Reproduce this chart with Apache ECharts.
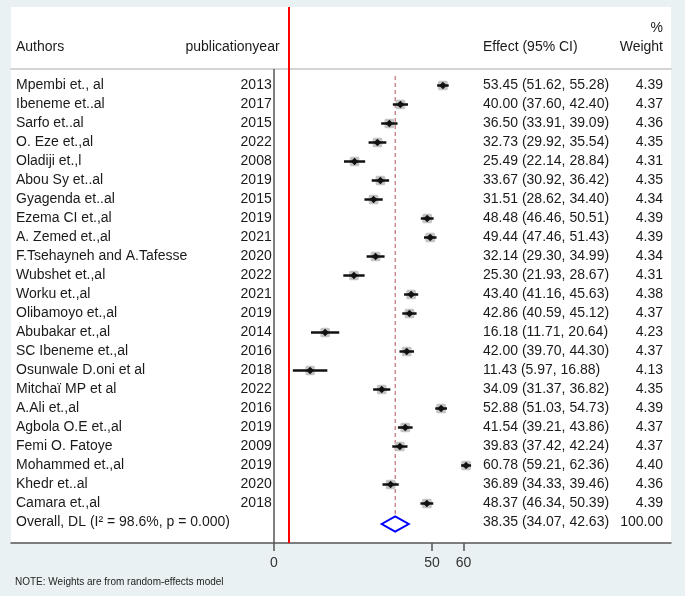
<!DOCTYPE html>
<html><head><meta charset="utf-8">
<script src="https://cdn.jsdelivr.net/npm/echarts@6/dist/echarts.min.js"></script>
<style>html,body{margin:0;padding:0;background:#e9f1f3}#c{width:685px;height:596px}</style>
</head><body><div id="c"></div>
<script>
// ---------------- data ----------------
const authors = ["Mpembi et., al","Ibeneme et..al","Sarfo et..al","O. Eze et.,al","Oladiji et.,l","Abou Sy et..al","Gyagenda et..al","Ezema CI et.,al","A. Zemed et.,al","F.Tsehayneh and A.Tafesse","Wubshet et.,al","Worku et.,al","Olibamoyo et.,al","Abubakar et.,al","SC Ibeneme et.,al","Osunwale D.oni et al","Mitchaï MP et al","A.Ali et.,al","Agbola O.E et.,al","Femi O. Fatoye","Mohammed et.,al","Khedr et..al","Camara et.,al"];
const years = [2013,2017,2015,2022,2008,2019,2015,2019,2021,2020,2022,2021,2019,2014,2016,2018,2022,2016,2019,2009,2019,2020,2018];
const effects = [53.45,40.00,36.50,32.73,25.49,33.67,31.51,48.48,49.44,32.14,25.30,43.40,42.86,16.18,42.00,11.43,34.09,52.88,41.54,39.83,60.78,36.89,48.37];
const lower = [51.62,37.60,33.91,29.92,22.14,30.92,28.62,46.46,47.46,29.30,21.93,41.16,40.59,11.71,39.70,5.97,31.37,51.03,39.21,37.42,59.21,34.33,46.34];
const upper = [55.28,42.40,39.09,35.54,28.84,36.42,34.40,50.51,51.43,34.99,28.67,45.63,45.12,20.64,44.30,16.88,36.82,54.73,43.86,42.24,62.36,39.46,50.39];
const weights = [4.39,4.37,4.36,4.35,4.31,4.35,4.34,4.39,4.39,4.34,4.31,4.38,4.37,4.23,4.37,4.13,4.35,4.39,4.37,4.37,4.40,4.36,4.39];
const overallLabel = "Overall, DL (I\u00B2 = 98.6%, p = 0.000)";
const overallEffect = [38.35, 34.07, 42.63];
const overallWeight = 100.00;
const xTicks = [0, 50, 60];
const refLine = 4.65;
const headAuthors = "Authors", headYear = "publicationyear", headEffect = "Effect (95% CI)", headPct = "%", headWeight = "Weight";
const noteText = "NOTE: Weights are from random-effects model";

// ---------------- layout ----------------
const FONT = "'Liberation Sans', Arial, Helvetica, sans-serif";
const LEAD = 4;                       // blank, %, header, blank
const NROWS = LEAD + authors.length + 1;
const XMIN = -83.23, XMAX = 125.63;
const rowIds = Array.from({length: NROWS}, (_, i) => String(i));
const blank = n => Array.from({length: n}, () => "");
const fmt = v => v.toFixed(2);

const colAuthors = ["", "", headAuthors, ""].concat(authors, [overallLabel]);
const colYears = blank(LEAD).concat(years.map(String), [""]);
const colYearHead = ["", "", headYear, ""].concat(blank(authors.length + 1));
const colEffect = ["", "", headEffect, ""].concat(
  effects.map((e, i) => fmt(e) + " (" + fmt(lower[i]) + ", " + fmt(upper[i]) + ")"),
  [fmt(overallEffect[0]) + " (" + fmt(overallEffect[1]) + ", " + fmt(overallEffect[2]) + ")"]);
const colWeight = ["", headPct, headWeight, ""].concat(weights.map(fmt), [fmt(overallWeight)]);

const GL = 11, GR = 14;
function textAxis(col, align, edgeX) {
  return {
    gridIndex: 1, type: 'category', inverse: true, data: rowIds, position: 'left',
    axisLine: {show: false}, axisTick: {show: false}, splitLine: {show: false},
    axisLabel: {interval: 0, align: align, margin: GL - edgeX, formatter: (v, i) => col[i],
      color: '#1a1a1a', fontSize: 14, fontFamily: FONT}
  };
}

const studyData = effects.map((e, i) => [e, LEAD + i, lower[i], upper[i], weights[i]]);
const overallData = [[overallEffect[0], NROWS - 1, overallEffect[1], overallEffect[2], overallWeight]];

function renderStudy(params, api) {
  const eff = api.value(0), row = api.value(1), lo = api.value(2), hi = api.value(3), w = api.value(4);
  const c = api.coord([eff, row]), l = api.coord([lo, row]), h = api.coord([hi, row]);
  const side = Math.sqrt(w) * 4.6;
  const r = 3.8;
  return {type: 'group', children: [
    {type: 'rect', shape: {x: c[0] - side / 2, y: c[1] - side / 2, width: side, height: side, r: 1.5}, style: {fill: '#c4c4c4'}},
    {type: 'line', shape: {x1: l[0], y1: c[1], x2: h[0], y2: c[1]}, style: {stroke: '#111', lineWidth: 2.5}},
    {type: 'polygon', shape: {points: [[c[0] - r, c[1]], [c[0], c[1] - r], [c[0] + r, c[1]], [c[0], c[1] + r]]}, style: {fill: '#111'}}
  ]};
}
function renderOverall(params, api) {
  const eff = api.value(0), row = api.value(1), lo = api.value(2), hi = api.value(3);
  const c = api.coord([eff, row]), l = api.coord([lo, row]), h = api.coord([hi, row]);
  const band = api.size([0, 1])[1];
  const top = api.coord([eff, LEAD])[1] - band / 2;
  const cy = c[1] + 1.5, hh = 7.5;
  return {type: 'group', children: [
    {type: 'line', shape: {x1: c[0], y1: top, x2: c[0], y2: cy - hh}, style: {stroke: '#b5525a', lineWidth: 1, lineDash: [4, 3]}},
    {type: 'polygon', shape: {points: [[l[0], cy], [c[0], cy - hh], [h[0], cy], [c[0], cy + hh]]}, style: {fill: 'none', stroke: '#0000ff', lineWidth: 2}}
  ]};
}

const chart = echarts.init(document.getElementById('c'), null, {renderer: 'canvas'});
chart.setOption({
  animation: false,
  backgroundColor: '#e9f1f3',
  textStyle: {fontFamily: FONT},
  title: {text: noteText, left: 15, top: 577, padding: 0,
    textStyle: {fontSize: 10, fontWeight: 'normal', color: '#222', fontFamily: FONT}},
  grid: [
    {left: GL, right: GR, top: 7, bottom: 53, show: true, backgroundColor: '#ffffff', borderWidth: 0},
    {left: GL, right: GR, top: 0, bottom: 64},
    {left: GL, right: GR, top: 69, bottom: 53}
  ],
  xAxis: [
    {gridIndex: 0, type: 'value', min: XMIN, max: XMAX, show: false},
    {gridIndex: 1, type: 'value', min: XMIN, max: XMAX, show: false},
    {gridIndex: 2, type: 'value', min: XMIN, max: XMAX, position: 'top',
      axisLine: {show: true, onZero: false, lineStyle: {color: '#d4d4d4', width: 2}},
      axisTick: {show: false}, axisLabel: {show: false}, splitLine: {show: false}},
    {gridIndex: 2, type: 'value', min: XMIN, max: XMAX, position: 'bottom',
      axisLine: {show: true, onZero: false, lineStyle: {color: '#555', width: 1.5}},
      axisTick: {show: true, customValues: xTicks, length: 8, lineStyle: {color: '#555', width: 1.5}},
      axisLabel: {show: true, customValues: xTicks, margin: 13, color: '#333', fontSize: 14, fontFamily: FONT},
      splitLine: {show: false}}
  ],
  yAxis: [
    {gridIndex: 0, type: 'value', min: 0, max: 1, show: false},
    textAxis(colAuthors, 'left', 16),
    textAxis(colYears, 'right', 271.7),
    textAxis(colYearHead, 'right', 279.6),
    textAxis(colEffect, 'left', 483),
    textAxis(colWeight, 'right', 663),
    {gridIndex: 2, type: 'value', min: 0, max: 1, show: false}
  ],
  series: [
    {type: 'scatter', xAxisIndex: 0, yAxisIndex: 0, data: [], silent: true,
      markLine: {silent: true, symbol: 'none', label: {show: false},
        lineStyle: {color: '#ff0000', width: 2, type: 'solid'}, data: [{xAxis: refLine}]}},
    {type: 'scatter', xAxisIndex: 2, yAxisIndex: 6, data: [], silent: true,
      markLine: {silent: true, symbol: 'none', label: {show: false},
        lineStyle: {color: '#555', width: 1.5, type: 'solid'}, data: [{xAxis: 0}]}},
    {type: 'custom', xAxisIndex: 1, yAxisIndex: 1, clip: false, renderItem: renderStudy,
      encode: {x: 0, y: 1}, data: studyData, z: 5},
    {type: 'custom', xAxisIndex: 1, yAxisIndex: 1, clip: false, renderItem: renderOverall,
      encode: {x: 0, y: 1}, data: overallData, z: 4}
  ]
});
</script></body></html>
